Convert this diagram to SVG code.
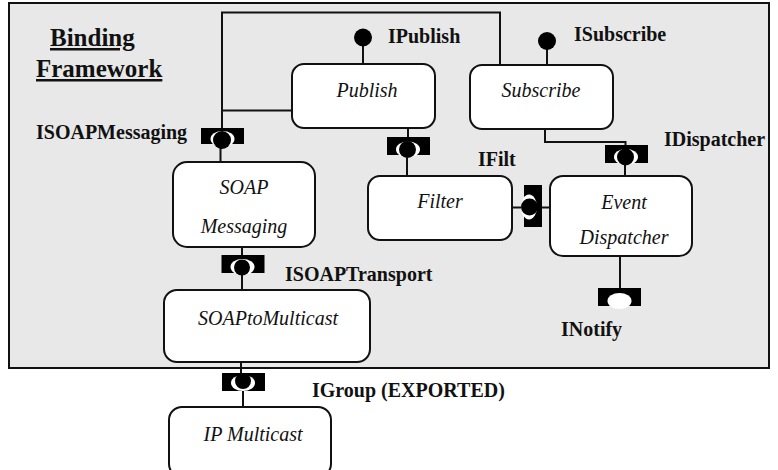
<svg xmlns="http://www.w3.org/2000/svg" width="778" height="470" viewBox="0 0 778 470">
<style>
.f{fill:#e8e8e8;stroke:#111;stroke-width:2}
.n{fill:#fff;stroke:#111;stroke-width:2}
.c{fill:none;stroke:#111;stroke-width:2}
.b{fill:#000}
.w{fill:#fff}
.k{fill:#000}
text{font-family:"Liberation Serif","Times New Roman",serif;fill:#111}
.l{font-size:20px;font-weight:bold}
.t{font-size:20px;font-style:italic;text-anchor:middle}
.h{font-size:25px;font-weight:bold;text-decoration:underline}
</style>
<rect width="778" height="470" fill="#fff"/>
<rect id="framework" class="f" x="9" y="3" width="760" height="365"/>
<g id="connectors">
<path class="c" d="M222 133V12.500H500V66"/>
<path class="c" d="M222 110.500H292"/>
<path class="c" d="M220.500 146V163"/>
<path class="c" d="M363 46V64"/>
<path class="c" d="M547 46V64"/>
<path class="c" d="M408 126V138"/>
<path class="c" d="M407 150V176"/>
<path class="c" d="M545 129V142H625.500V150"/>
<path class="c" d="M625 160V176"/>
<path class="c" d="M512 207.500H526"/>
<path class="c" d="M535 207.500H551"/>
<path class="c" d="M620 256V290"/>
<path class="c" d="M242 247V258"/>
<path class="c" d="M242 268V290"/>
<path class="c" d="M241 362V376"/>
<path class="c" d="M243 388V407"/>
</g>
<g id="IPublish"><circle class="k" cx="363" cy="37.500" r="9"/><text class="l" x="388" y="43">IPublish</text></g>
<g id="ISubscribe"><circle class="k" cx="547" cy="41" r="9"/><text class="l" x="574" y="41">ISubscribe</text></g>
<g id="ISOAPMessaging">
<rect class="b" x="201" y="128" width="43" height="16"/><ellipse class="w" cx="222.500" cy="139" rx="12" ry="8"/><circle class="k" cx="222" cy="140" r="9"/>
<text class="l" x="36" y="139">ISOAPMessaging</text></g>
<g id="IFilterPort">
<rect class="b" x="387" y="137" width="43" height="18"/><ellipse class="w" cx="408" cy="149.500" rx="12" ry="8"/><circle class="k" cx="407.500" cy="149.500" r="8.500"/>
<text class="l" x="478" y="166">IFilt</text></g>
<g id="IDispatcher">
<rect class="b" x="605" y="145" width="43" height="18"/><ellipse class="w" cx="626" cy="157" rx="12" ry="8"/><circle class="k" cx="625.500" cy="157" r="8.500"/>
<text class="l" x="664" y="146">IDispatcher</text></g>
<g id="IFiltPort">
<rect class="b" x="524" y="185" width="18" height="42"/><ellipse class="w" cx="529" cy="207" rx="8" ry="12.500"/><circle class="k" cx="529.500" cy="207" r="8.500"/></g>
<g id="INotify">
<rect class="b" x="598" y="288" width="43" height="18"/><ellipse class="w" cx="619.500" cy="301" rx="12" ry="8"/>
<text class="l" x="561" y="336">INotify</text></g>
<g id="ISOAPTransport">
<rect class="b" x="221.500" y="255" width="43" height="18"/><ellipse class="w" cx="242.500" cy="267" rx="12" ry="8"/><circle class="k" cx="242" cy="267.500" r="8"/>
<text class="l" x="285" y="281">ISOAPTransport</text></g>
<g id="IGroup">
<rect class="b" x="222" y="373" width="43" height="18"/><ellipse class="w" cx="243" cy="383" rx="12" ry="8"/><circle class="k" cx="243" cy="381" r="8"/>
<text class="l" x="312" y="397">IGroup (EXPORTED)</text></g>
<g id="publish"><rect class="n" x="292" y="64" width="143" height="64" rx="12"/><text class="t" x="367" y="97">Publish</text></g>
<g id="subscribe"><rect class="n" x="470" y="65" width="143" height="64" rx="12"/><text class="t" x="541" y="97">Subscribe</text></g>
<g id="soap-messaging"><rect class="n" x="173" y="162" width="142" height="85" rx="14"/><text class="t" x="244" y="194">SOAP</text><text class="t" x="244" y="233">Messaging</text></g>
<g id="filter"><rect class="n" x="368" y="176" width="144" height="64" rx="12"/><text class="t" x="440" y="208">Filter</text></g>
<g id="event-dispatcher"><rect class="n" x="550" y="176" width="142" height="80" rx="13"/><text class="t" x="624" y="209">Event</text><text class="t" x="624" y="244">Dispatcher</text></g>
<g id="soap-to-multicast"><rect class="n" x="164" y="290" width="206" height="72" rx="13"/><text class="t" x="268" y="325">SOAPtoMulticast</text></g>
<g id="ip-multicast"><rect class="n" x="169" y="407" width="162" height="70" rx="13"/><text class="t" x="253" y="441">IP Multicast</text></g>
<g id="title"><text class="h" x="50" y="46">Binding</text><text class="h" x="36" y="77">Framework</text></g>
</svg>
